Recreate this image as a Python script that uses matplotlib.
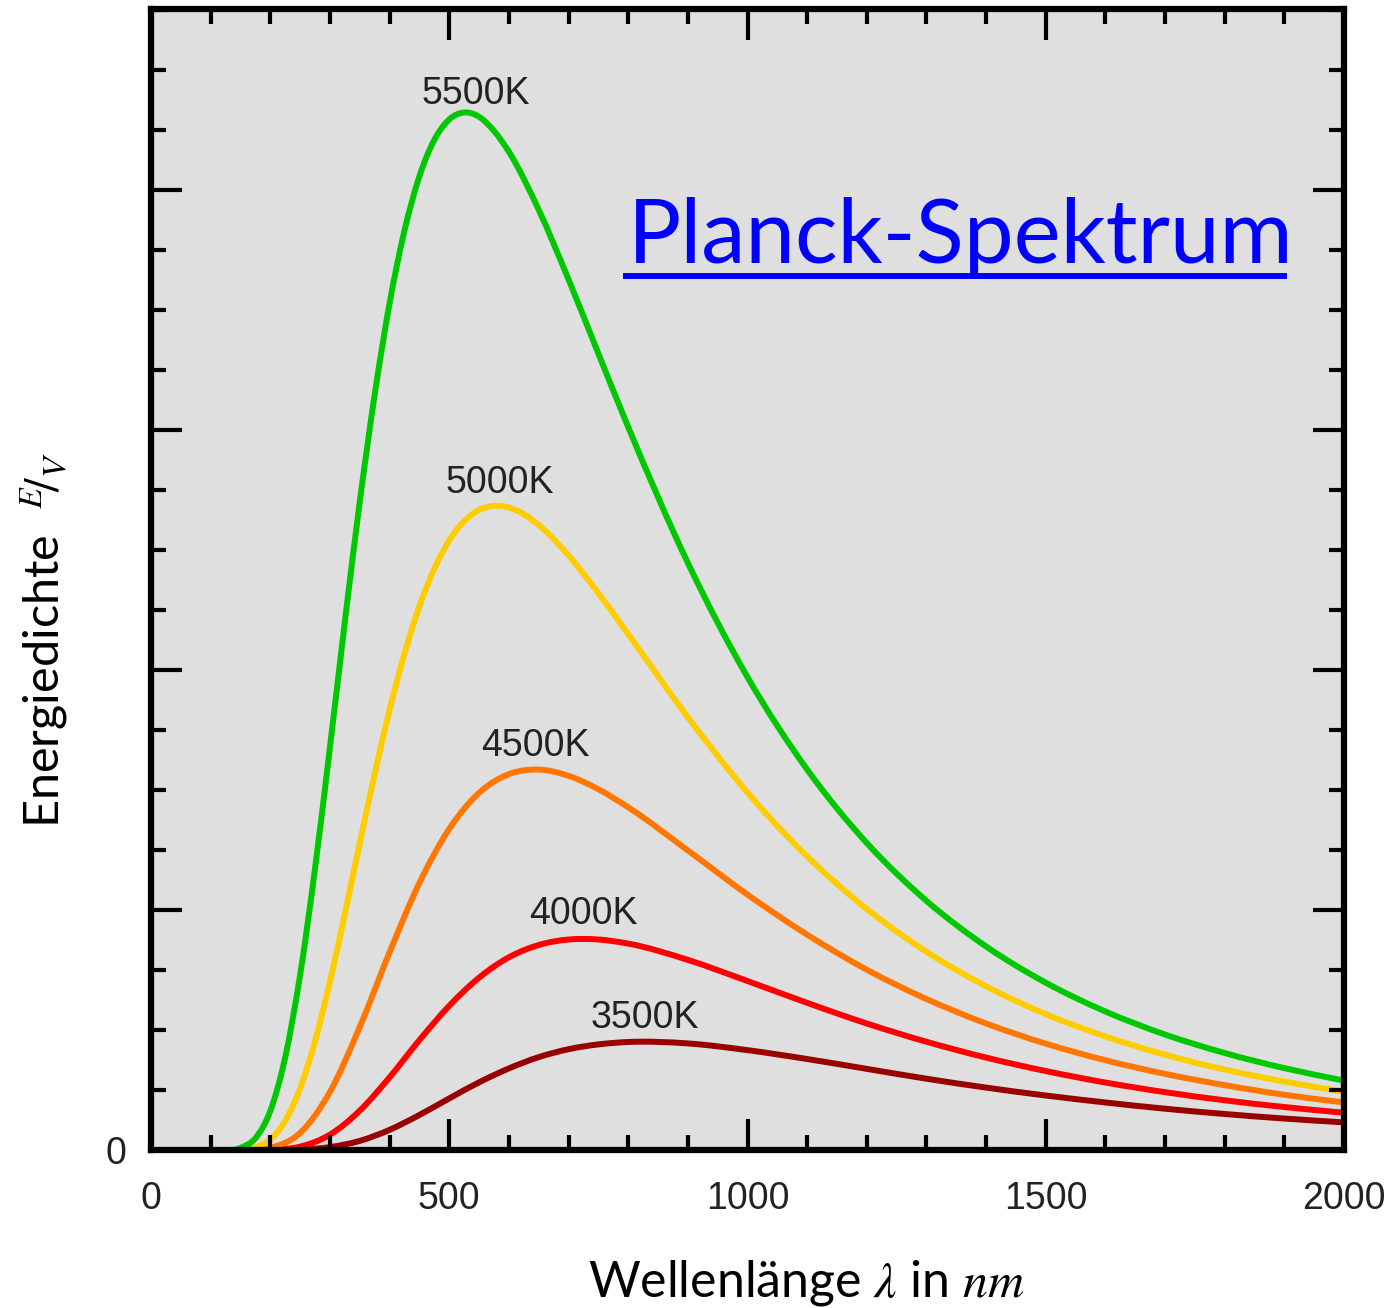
import matplotlib
matplotlib.use("Agg")
import matplotlib.pyplot as plt
from matplotlib.lines import Line2D
from matplotlib.path import Path
from matplotlib.patches import PathPatch
from matplotlib.ticker import MultipleLocator

plt.rcParams['mathtext.fontset'] = 'stix'

# wavelengths (nm)
lam_fine = [25, 100, 150, 175, 200, 225, 250, 275, 300, 325, 350, 375, 400, 425, 450, 475,
            500, 525, 550, 575, 600, 650, 700, 750, 800, 900, 1000, 1100, 1200, 1300, 1400,
            1500, 1600, 1700, 1800, 1900, 2000]
lam_coarse = [25, 100, 150, 200, 250, 300, 350, 400, 450, 500, 550, 600, 650, 700, 750, 800,
              900, 1000, 1100, 1200, 1300, 1400, 1500, 1600, 1700, 1800, 1900, 2000]

# energy density (arbitrary units, 1 = one major y tick)
e_5500 = [0, 0, 0.009, 0.049, 0.163, 0.387, 0.730, 1.174, 1.679, 2.202, 2.702, 3.148, 3.529,
          3.832, 4.058, 4.209, 4.294, 4.323, 4.305, 4.246, 4.159, 3.917, 3.627, 3.318, 3.012,
          2.446, 1.970, 1.585, 1.279, 1.038, 0.848, 0.697, 0.577, 0.481, 0.404, 0.341, 0.289]
e_5000 = [0, 0, 0.0015, 0.011, 0.044, 0.121, 0.257, 0.453, 0.702, 0.984, 1.279, 1.567, 1.834,
          2.069, 2.266, 2.422, 2.540, 2.620, 2.667, 2.684, 2.677, 2.604, 2.477, 2.320, 2.149,
          1.803, 1.489, 1.223, 1.004, 0.826, 0.682, 0.566, 0.473, 0.397, 0.335, 0.285, 0.243]
e_4500 = [0, 0, 0.0002, 0.009, 0.071, 0.242, 0.513, 0.824, 1.113, 1.338, 1.488, 1.566, 1.585,
          1.559, 1.503, 1.428, 1.248, 1.064, 0.897, 0.751, 0.629, 0.527, 0.443, 0.374, 0.317,
          0.270, 0.230, 0.198]
e_4000 = [0, 0, 0, 0.001, 0.014, 0.064, 0.164, 0.303, 0.458, 0.601, 0.718, 0.803, 0.854,
          0.877, 0.877, 0.860, 0.792, 0.704, 0.613, 0.527, 0.451, 0.385, 0.329, 0.281, 0.241,
          0.207, 0.179, 0.155]
e_3500 = [0, 0, 0, 0, 0.002, 0.012, 0.038, 0.084, 0.146, 0.215, 0.282, 0.340, 0.387, 0.420,
          0.440, 0.450, 0.444, 0.416, 0.379, 0.338, 0.297, 0.260, 0.227, 0.198, 0.172, 0.150,
          0.131, 0.115]

temps = ["3500K", "4000K", "4500K", "5000K", "5500K"]
colors = ["#990000", "#ff0000", "#ff7700", "#ffcc00", "#00c800"]
# label anchors (wavelength, energy) for each curve
label_x = [827, 725, 645, 585, 545]
label_y = [0.55, 0.983, 1.683, 2.78, 4.40]


def smooth_path(xs, ys):
    # cubic hermite through the points, written as bezier segments
    n = len(xs)
    slopes = []
    for i in range(n):
        if i == 0:
            m = (ys[1] - ys[0]) / (xs[1] - xs[0])
        elif i == n - 1:
            m = (ys[-1] - ys[-2]) / (xs[-1] - xs[-2])
        else:
            h0 = xs[i] - xs[i - 1]
            h1 = xs[i + 1] - xs[i]
            d0 = (ys[i] - ys[i - 1]) / h0
            d1 = (ys[i + 1] - ys[i]) / h1
            m = (h1 * d0 + h0 * d1) / (h0 + h1)
        slopes.append(m)
    verts = [(xs[0], ys[0])]
    codes = [Path.MOVETO]
    for i in range(n - 1):
        h = xs[i + 1] - xs[i]
        verts += [(xs[i] + h / 3, ys[i] + slopes[i] * h / 3),
                  (xs[i + 1] - h / 3, ys[i + 1] - slopes[i + 1] * h / 3),
                  (xs[i + 1], ys[i + 1])]
        codes += [Path.CURVE4] * 3
    return Path(verts, codes)


fig = plt.figure(figsize=(13.97, 13.08), dpi=100)
ax = fig.add_axes([0.1081, 0.1208, 0.8540, 0.8723])
ax.set_facecolor("#dfdfdf")

series = [(lam_coarse, e_3500), (lam_coarse, e_4000), (lam_coarse, e_4500),
          (lam_fine, e_5000), (lam_fine, e_5500)]
for (lam, e), col, name, lx, ly in zip(series, colors, temps, label_x, label_y):
    ax.add_patch(PathPatch(smooth_path(lam, e), facecolor='none', edgecolor=col, lw=4.3,
                           capstyle='butt', joinstyle='round'))
    ax.text(lx, ly, name, ha='center', va='center', fontsize=27,
            family='Liberation Sans', color='#222222')

ax.set_xlim(0, 2000)
ax.set_ylim(0, 4.754)
ax.xaxis.set_major_locator(MultipleLocator(500))
ax.xaxis.set_minor_locator(MultipleLocator(100))
ax.yaxis.set_major_locator(MultipleLocator(1))
ax.yaxis.set_minor_locator(MultipleLocator(0.25))
ax.yaxis.set_major_formatter(plt.FuncFormatter(lambda v, p: "0" if v == 0 else ""))

ax.tick_params(which='both', direction='in', top=True, right=True, width=3, color='black')
ax.tick_params(which='major', length=22)
ax.tick_params(which='minor', length=11)
ax.tick_params(axis='x', which='major', pad=22, labelsize=27, labelcolor='#222222')
ax.tick_params(axis='y', which='major', pad=18, labelsize=27, labelcolor='#222222')
for lab in ax.get_xticklabels() + ax.get_yticklabels():
    lab.set_family('Liberation Sans')
for sp in ax.spines.values():
    sp.set_linewidth(4.5)

# axis labels
fig.text(806 / 1397, 1 - 1297 / 1308, r"Wellenlänge $\lambda$ in $nm$", ha='center',
         va='baseline', fontsize=36, family='Lato')
fig.text(60 / 1397, 1 - 640 / 1308, r"Energiedichte  $^{E}\!/_{V}$", ha='center',
         va='baseline', rotation=90, fontsize=35, family='Lato', rotation_mode='anchor')

# title, underlined
fig.text(628 / 1397, 1 - 263 / 1308, "Planck-Spektrum", ha='left', va='baseline',
         fontsize=64, family='Lato', color='#0000ff')
fig.add_artist(Line2D([626 / 1397, 1284 / 1397], [1 - 276 / 1308, 1 - 276 / 1308],
                      color='#0000ff', lw=4.3, transform=fig.transFigure))

fig.savefig("out.png", dpi=100)
